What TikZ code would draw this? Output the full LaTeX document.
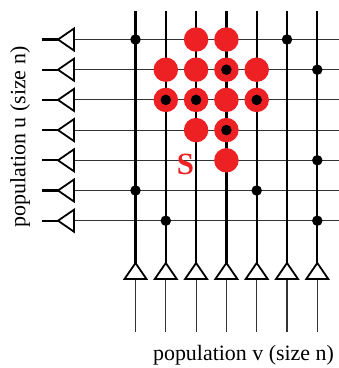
\documentclass[tikz,border=0pt]{standalone}
\usepackage{fontspec}
\setmainfont{Liberation Serif}
\definecolor{dotred}{HTML}{ED2024}
\begin{document}
\begin{tikzpicture}[x=1bp,y=-1bp,
  thinline/.style={line width=1.1bp,black!80},
  thickline/.style={line width=2.3bp,black},
  triline/.style={line width=1.8bp,black,line join=miter,fill=white},
  reddot/.style={circle,fill=dotred,draw=none,minimum size=24.5bp,inner sep=0pt},
  blackdot/.style={circle,fill=black,draw=none,minimum size=10.5bp,inner sep=0pt},
  lbl/.style={font=\fontsize{22}{24}\selectfont,inner sep=0pt}]
\useasboundingbox (0,0) rectangle (339,368);
% coordinates
\foreach \i in {1,...,7}{
  \pgfmathsetmacro{\cx}{135.5+30.3*(\i-1)}
  \coordinate (ctop-\i) at (\cx,11);
  \coordinate (capex-\i) at (\cx,263);
  \coordinate (cbase-\i) at (\cx,279);
  \coordinate (cbl-\i) at (\cx-11,279);
  \coordinate (cbr-\i) at (\cx+11,279);
  \coordinate (cbot-\i) at (\cx,332);
}
\foreach \j in {1,...,7}{
  \pgfmathsetmacro{\ry}{39.5+30.2*(\j-1)}
  \coordinate (rl-\j) at (42,\ry);
  \coordinate (rapex-\j) at (58,\ry);
  \coordinate (rbase-\j) at (74,\ry);
  \coordinate (rbt-\j) at (74,\ry-11);
  \coordinate (rbb-\j) at (74,\ry+11);
  \coordinate (rr-\j) at (339,\ry);
}
% horizontal lines
\foreach \j in {1,...,7}{
  \draw[thinline] (rbase-\j) -- (rr-\j);
  \draw[thickline] (rl-\j) -- (rapex-\j);
  \draw[triline] (rapex-\j) -- (rbt-\j) -- (rbb-\j) -- cycle;
}
% vertical lines
\foreach \i in {1,...,7}{
  \draw[thickline] (ctop-\i) -- (capex-\i);
  \draw[thinline] (cbase-\i) -- (cbot-\i);
  \draw[triline] (capex-\i) -- (cbl-\i) -- (cbr-\i) -- cycle;
}
% red circles
\foreach \i/\j in {3/1,4/1,2/2,3/2,4/2,5/2,2/3,3/3,4/3,5/3,3/4,4/4,4/5}{
  \node[reddot] (r-\i-\j) at (ctop-\i |- rbase-\j) {};
}
% black dots
\foreach \i/\j in {1/1,6/1,4/2,7/2,2/3,3/3,5/3,4/4,7/5,1/6,5/6,2/7,7/7}{
  \node[blackdot] (b-\i-\j) at (ctop-\i |- rbase-\j) {};
}
% labels
\node[font=\bfseries\fontsize{31}{33}\selectfont,text=dotred,inner sep=0pt] (S) at (185.5,164) {S};
\node[lbl,rotate=90] (lu) at (20,137) {population u (size n)};
\node[lbl] (lv) at (243.5,355) {population v (size n)};
\end{tikzpicture}
\end{document}
